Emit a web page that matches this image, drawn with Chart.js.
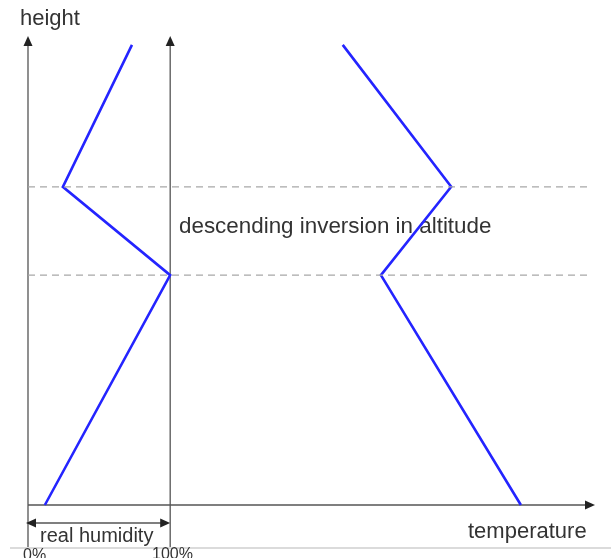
<!DOCTYPE html>
<html lang="en">
<head>
  <meta charset="UTF-8" />
  <title>Descending inversion</title>
  <script src="https://cdn.jsdelivr.net/npm/chart.js"></script>
  <style>
    body { margin: 0; background: #fff; }
    #wrap { width: 611px; height: 558px; position: relative; }
  </style>
</head>
<body>
  <div id="wrap"><canvas id="chart"></canvas></div>

  <script>
    // x: 0..100 across the diagram width, y: 0..100 height
    const heights = [0, 48.9, 67.7, 97.9];
    const humidity = [3.0, 25.3, 6.2, 18.5];
    const temperature = [87.7, 62.8, 75.3, 56.0];
    const inversionHeights = [48.9, 67.7];
    const humidityMax = 25.3; // 100% humidity line

    const toPoints = (xs) => xs.map((x, i) => ({ x: x, y: heights[i] }));

    const dashed = inversionHeights.map(h => ({
      data: [{ x: 0, y: h }, { x: 100, y: h }],
      borderColor: "#a8a8a8",
      borderWidth: 1.2,
      borderDash: [7, 5],
      pointRadius: 0,
      showLine: true,
      clip: false
    }));

    function arrowHead(ctx, x, y, dir) {
      ctx.beginPath();
      if (dir === "up") { ctx.moveTo(x, y); ctx.lineTo(x - 4.5, y + 10); ctx.lineTo(x + 4.5, y + 10); }
      if (dir === "right") { ctx.moveTo(x, y); ctx.lineTo(x - 10, y - 4.5); ctx.lineTo(x - 10, y + 4.5); }
      if (dir === "left") { ctx.moveTo(x, y); ctx.lineTo(x + 10, y - 4.5); ctx.lineTo(x + 10, y + 4.5); }
      ctx.closePath();
      ctx.fill();
    }

    const diagram = {
      id: "diagram",
      beforeDatasetsDraw(chart) {
        const ctx = chart.ctx;
        const sx = chart.scales.x, sy = chart.scales.y;
        const x0 = sx.getPixelForValue(0);
        const xh = sx.getPixelForValue(humidityMax);
        const y0 = sy.getPixelForValue(0);
        const top = sy.getPixelForValue(100) + 1;
        ctx.save();
        ctx.strokeStyle = "#555";
        ctx.fillStyle = "#222";
        ctx.lineWidth = 1.3;
        ctx.beginPath();
        ctx.moveTo(x0, y0); ctx.lineTo(x0, top + 4);
        ctx.moveTo(xh, y0); ctx.lineTo(xh, top + 4);
        ctx.moveTo(x0, y0); ctx.lineTo(sx.getPixelForValue(100) - 2, y0);
        // humidity bracket
        ctx.moveTo(x0, y0); ctx.lineTo(x0, y0 + 42);
        ctx.moveTo(xh, y0); ctx.lineTo(xh, y0 + 42);
        ctx.moveTo(x0 + 4, y0 + 18); ctx.lineTo(xh - 4, y0 + 18);
        ctx.stroke();
        arrowHead(ctx, x0, top, "up");
        arrowHead(ctx, xh, top, "up");
        arrowHead(ctx, sx.getPixelForValue(100) + 5, y0, "right");
        arrowHead(ctx, x0 - 2, y0 + 18, "left");
        arrowHead(ctx, xh, y0 + 18, "right");

        // page rule
        ctx.strokeStyle = "#cfcfcf";
        ctx.lineWidth = 1.5;
        ctx.beginPath();
        ctx.moveTo(10, 548); ctx.lineTo(611, 548);
        ctx.stroke();

        ctx.fillStyle = "#333";
        ctx.textBaseline = "middle";
        ctx.font = "22px 'Liberation Sans', Arial, sans-serif";
        ctx.fillText("height", 20, 19);
        ctx.fillText("temperature", 468, 532);
        ctx.font = "22.4px 'Liberation Sans', Arial, sans-serif";
        ctx.fillText("descending inversion in altitude", 179, 227);
        ctx.font = "20px 'Liberation Sans', Arial, sans-serif";
        ctx.fillText("real humidity", 40, 536);
        ctx.font = "16px 'Liberation Sans', Arial, sans-serif";
        ctx.fillText("0%", 23, 556);
        ctx.fillText("100%", 152, 555);
        ctx.restore();
      }
    };

    new Chart(document.getElementById("chart"), {
      type: "scatter",
      data: {
        datasets: [
          ...dashed,
          {
            label: "humidity",
            data: toPoints(humidity),
            borderColor: "#2424ff",
            borderWidth: 2.6,
            pointRadius: 0,
            showLine: true,
            clip: false
          },
          {
            label: "temperature",
            data: toPoints(temperature),
            borderColor: "#2424ff",
            borderWidth: 2.6,
            pointRadius: 0,
            showLine: true,
            clip: false
          }
        ]
      },
      options: {
        responsive: true,
        maintainAspectRatio: false,
        animation: false,
        layout: { padding: { left: 28, right: 21, top: 35, bottom: 53 } },
        scales: {
          x: { type: "linear", min: 0, max: 100, display: false },
          y: { type: "linear", min: 0, max: 100, display: false }
        },
        plugins: { legend: { display: false }, tooltip: { enabled: false } }
      },
      plugins: [diagram]
    });
  </script>
</body>
</html>
